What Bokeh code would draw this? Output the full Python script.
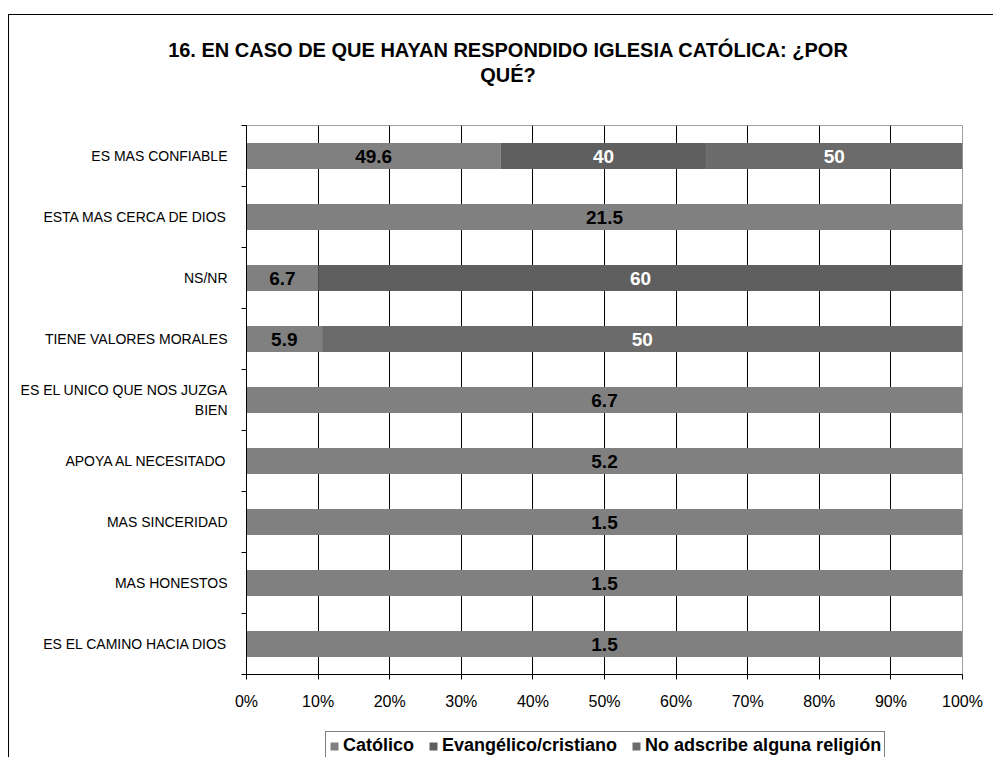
import numpy as np
from bokeh.plotting import figure
from bokeh.layouts import column
from bokeh.models import (ColumnDataSource, Range1d, FixedTicker, SingleIntervalTicker,
                          NumeralTickFormatter, Legend, LegendItem, Div)
from bokeh.core.properties import value
from bokeh.embed import file_html
from bokeh.resources import INLINE

FONT = "Liberation Sans"

title_lines = ["16. EN CASO DE QUE HAYAN RESPONDIDO IGLESIA CATÓLICA: ¿POR", "QUÉ?"]
categories = [
    "ES MAS CONFIABLE",
    "ESTA MAS CERCA DE DIOS",
    "NS/NR",
    "TIENE VALORES MORALES",
    "ES EL UNICO QUE NOS JUZGA\nBIEN",
    "APOYA AL NECESITADO",
    "MAS SINCERIDAD",
    "MAS HONESTOS",
    "ES EL CAMINO HACIA DIOS",
]
series_names = ["Católico", "Evangélico/cristiano", "No adscribe alguna religión"]
catolico = [49.6, 21.5, 6.7, 5.9, 6.7, 5.2, 1.5, 1.5, 1.5]
evangelico = [40, 0, 60, 0, 0, 0, 0, 0, 0]
no_adscribe = [50, 0, 0, 50, 0, 0, 0, 0, 0]
colors = ["#808080", "#5f5f5f", "#6b6b6b"]
label_colors = ["#000000", "#ffffff", "#ffffff"]

n = len(categories)
ypos = np.arange(n)[::-1].astype(float)
data = np.array([catolico, evangelico, no_adscribe], dtype=float)
totals = data.sum(axis=0)
shares = data / totals
cum = np.vstack([np.zeros(n), np.cumsum(shares, axis=0)])

W = 984
title_div = Div(
    text=('<div style="box-sizing:border-box;width:%dpx;padding-top:23px;padding-left:14px;'
          "font-family:'Liberation Sans',Arial,sans-serif;font-weight:bold;font-size:20px;"
          'line-height:25px;text-align:center;color:#000;">%s</div>') % (W, "<br>".join(title_lines)),
    width=W, height=110, margin=0)

p = figure(width=W, height=594,
           x_range=Range1d(0, 1), y_range=Range1d(-0.5, n - 0.5),
           output_backend="svg", toolbar_location=None,
           min_border_left=237, min_border_right=31,
           min_border_top=0, min_border_bottom=45)
p.title.visible = False
p.background_fill_color = "white"
p.border_fill_color = "white"
p.outline_line_color = "#a0a0a0"
p.outline_line_width = 1

sources = []
for k in range(3):
    src = ColumnDataSource(dict(y=ypos, left=cum[k], right=cum[k + 1]))
    sources.append(src)
    p.hbar(y="y", left="left", right="right", height=0.43, source=src,
           fill_color=colors[k], line_color=None)

lx, ly, lt, lc = [], [], [], []
for k in range(3):
    for i in range(n):
        if data[k, i] > 0:
            lx.append((cum[k, i] + cum[k + 1, i]) / 2)
            ly.append(ypos[i])
            lt.append(f"{data[k, i]:g}")
            lc.append(label_colors[k])
lsrc = ColumnDataSource(dict(x=lx, y=ly, t=lt, c=lc))
p.text(x="x", y="y", text="t", source=lsrc, text_color="c",
       text_align="center", text_baseline="middle",
       text_font=value(FONT), text_font_size="19px", text_font_style="bold")

# x axis
p.xaxis.ticker = SingleIntervalTicker(interval=0.1)
p.xaxis.formatter = NumeralTickFormatter(format="0%")
p.xaxis.axis_line_color = "black"
p.xaxis.major_tick_line_color = "black"
p.xaxis.major_tick_out = 5
p.xaxis.major_tick_in = 0
p.xaxis.minor_tick_line_color = None
p.xaxis.major_label_text_font = FONT
p.xaxis.major_label_text_font_size = "16px"
p.xaxis.major_label_text_color = "black"
p.xaxis.major_label_standoff = 13

p.xgrid.ticker = SingleIntervalTicker(interval=0.1)
p.xgrid.grid_line_color = "black"
p.xgrid.grid_line_width = 1
p.ygrid.grid_line_color = None

# y axis
p.yaxis.ticker = FixedTicker(ticks=list(ypos), minor_ticks=list(np.arange(n + 1) - 0.5))
p.yaxis.major_label_overrides = {int(y): c for y, c in zip(ypos, categories)}
p.yaxis.axis_line_color = "black"
p.yaxis.major_tick_line_color = None
p.yaxis.major_tick_out = 0
p.yaxis.major_tick_in = 0
p.yaxis.minor_tick_line_color = "black"
p.yaxis.minor_tick_out = 5
p.yaxis.minor_tick_in = 0
p.yaxis.major_label_text_font = FONT
p.yaxis.major_label_text_font_size = "14px"
p.yaxis.major_label_text_color = "black"
p.yaxis.major_label_standoff = 14

# legend strip: a small figure whose view range lies beyond the bars, so only
# the legend (with the series' swatches) shows
lg = figure(width=W, height=38, x_range=Range1d(0, 1), y_range=Range1d(n + 5, n + 6),
            output_backend="svg", toolbar_location=None,
            min_border_left=0, min_border_right=0, min_border_top=0, min_border_bottom=0)
lg.title.visible = False
lg.axis.visible = False
lg.grid.visible = False
lg.outline_line_color = None
lg.background_fill_color = "white"
lg.border_fill_color = "white"
swatches = [lg.hbar(y="y", left="left", right="right", height=0.43, source=src,
                    fill_color=c, line_color=None)
            for src, c in zip(sources, colors)]

legend = Legend(items=[LegendItem(label=nm, renderers=[r]) for nm, r in zip(series_names, swatches)],
                orientation="horizontal", location=(79, -3))
legend.label_text_font = FONT
legend.label_text_font_size = "18px"
legend.label_text_font_style = "bold"
legend.label_text_color = "black"
legend.label_height = 18
legend.glyph_width = 10
legend.glyph_height = 10
legend.label_standoff = 4
legend.spacing = 14
legend.padding = 3
legend.margin = 0
legend.border_line_color = "black"
legend.border_line_width = 1
legend.background_fill_color = "white"
legend.background_fill_alpha = 1
lg.add_layout(legend)

layout = column(title_div, p, lg, spacing=0,
                styles={"border-top": "1px solid #000", "border-left": "1px solid #000",
                        "margin-top": "14px", "margin-left": "8px"})

open("out.html", "w").write(file_html(layout, INLINE))
